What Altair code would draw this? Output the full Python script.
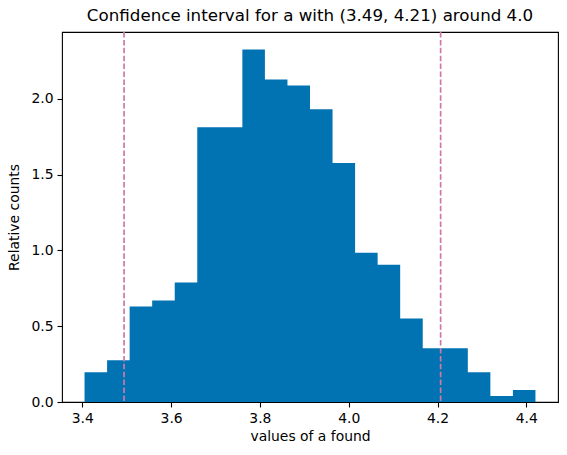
import altair as alt
import numpy as np
import pandas as pd

# Histogram of the fitted values of a (density normalised)
bin_start = 3.405
bin_width = 0.05078
densities = [0.197, 0.276, 0.630, 0.670, 0.788, 1.812, 1.812, 2.324, 2.127, 2.088,
             1.930, 1.576, 0.985, 0.906, 0.551, 0.355, 0.355, 0.197, 0.039, 0.079]

# Confidence interval bounds
ci_bounds = [3.494, 4.207]

x_ticks = [3.4, 3.6, 3.8, 4.0, 4.2, 4.4]
y_ticks = [0.0, 0.5, 1.0, 1.5, 2.0]

# One row per bin edge; the last edge repeats the last height so the step closes
edges = bin_start + bin_width * np.arange(len(densities) + 1)
hist = pd.DataFrame({"edge": edges, "density": densities + densities[-1:]})
ci = pd.DataFrame({"x": ci_bounds})

span = edges[-1] - edges[0]
x_dom = [edges[0] - 0.05 * span, edges[-1] + 0.05 * span]
y_dom = [0, max(densities) * 1.05]

FONT = "DejaVu Sans"
BLUE = "#0173B2"

x_scale = alt.Scale(domain=x_dom, nice=False, zero=False)
y_scale = alt.Scale(domain=y_dom, nice=False)

axis_common = dict(
    labelFont=FONT, labelFontSize=13.9, labelColor="#000000",
    titleFont=FONT, titleFontSize=13.9, titleColor="#000000", titleFontWeight="normal",
    tickColor="#000000", tickSize=5, tickWidth=1.1, labelPadding=4,
    domain=False, grid=False, format=".1f",
)

bars = alt.Chart(hist).mark_area(color=BLUE, interpolate="step-after", opacity=1).encode(
    x=alt.X("edge:Q", scale=x_scale,
            axis=alt.Axis(values=x_ticks, title="values of a found", titlePadding=5, **axis_common)),
    y=alt.Y("density:Q", scale=y_scale,
            axis=alt.Axis(values=y_ticks, title="Relative counts", titlePadding=9, **axis_common)),
    y2=alt.datum(0),
)

lines = alt.Chart(ci).mark_rule(
    color="#CC79A7", strokeWidth=1.7, strokeDash=[5.5, 2.4]
).encode(x=alt.X("x:Q", scale=x_scale))

chart = (
    alt.layer(bars, lines)
    .properties(
        width=496,
        height=370,
        autosize=alt.AutoSizeParams(type="none"),
        padding={"left": 62, "top": 32, "right": 9, "bottom": 53},
        title=alt.TitleParams(
            "Confidence interval for a with (3.49, 4.21) around 4.0",
            font=FONT, fontSize=16.7, fontWeight="normal", color="#000000",
            anchor="middle", offset=6,
        ),
        background="#ffffff",
    )
    .configure_view(stroke="#000000", strokeWidth=1.1)
)

chart.save("out.html", embed_options={"renderer": "svg", "actions": False})
